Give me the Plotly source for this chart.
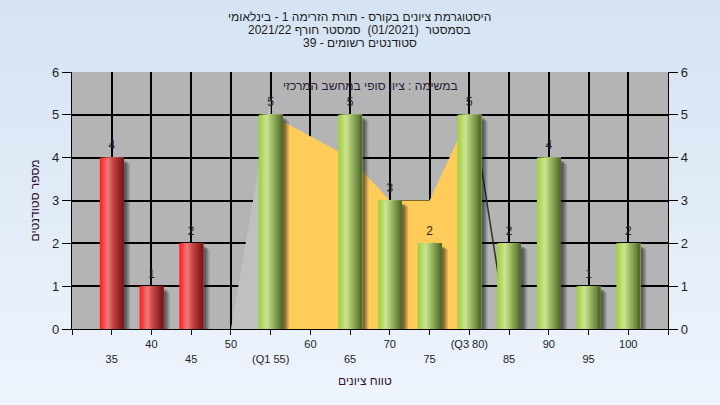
import numpy as np
import plotly.graph_objects as go

# ---------------- data ----------------
fail_x = [35, 40, 45]
fail_y = [4, 1, 2]
pass_x = [55, 65, 70, 75, 80, 85, 90, 95, 100]
pass_y = [5, 5, 3, 2, 5, 2, 4, 1, 2]
iqr_x = [55, 65, 70, 75, 80]
iqr_y = [5, 4, 3, 3, 5]
left_tail_x = [50, 55]
left_tail_y = [0, 5.4]
right_tail_x = [81.0, 84.7]
right_tail_y = [4.4, 0]
tick_vals = [30, 35, 40, 45, 50, 55, 60, 65, 70, 75, 80, 85, 90, 95, 100, 105]
tick_labels = ["", "35", "40", "45", "50", "(Q1 55)", "60", "65", "70", "75",
               "(Q3 80)", "85", "90", "95", "100", ""]
title_lines = ["היסטוגרמת ציונים בקורס - תורת הזרימה 1 - בינלאומי",
               "בסמסטר  (01/2021)  סמסטר חורף 2021/22",
               "סטודנטים רשומים - 39"]
task_label = "במשימה : ציון סופי במחשב המרכזי"
x_title = "טווח ציונים"
y_title = "מספר סטודנטים"

FONT = "Liberation Sans, Arial, sans-serif"
BAR_W = 3.0
N_STRIPES = 16

def grad(stops, n):
    pos = np.array([s[0] for s in stops])
    cols = np.array([s[1] for s in stops], dtype=float)
    out = []
    for i in range(n):
        t = (i + 0.5) / n
        c = [np.interp(t, pos, cols[:, k]) for k in range(3)]
        out.append("rgb(%d,%d,%d)" % tuple(int(round(v)) for v in c))
    return out

green_stops = [(0.0, (160, 206, 64)), (0.15, (180, 216, 98)), (0.33, (204, 230, 146)),
               (0.55, (160, 188, 104)), (0.8, (112, 142, 66)), (1.0, (76, 100, 42))]
red_stops = [(0.0, (255, 26, 26)), (0.18, (246, 78, 78)), (0.33, (238, 122, 122)),
             (0.55, (200, 70, 70)), (0.8, (156, 40, 40)), (1.0, (116, 24, 24))]

fig = go.Figure()

# tails / quartile area (main subplot, under the bars)
fig.add_trace(go.Scatter(x=left_tail_x, y=left_tail_y, mode="lines", fill="tozeroy",
                         fillcolor="#C0C0C0", line=dict(width=0, color="#C0C0C0"),
                         hoverinfo="skip"))
fig.add_trace(go.Scatter(x=iqr_x, y=iqr_y, mode="lines", fill="tozeroy",
                         fillcolor="#FFCC5A", line=dict(width=0, color="#FFCC5A"),
                         hoverinfo="skip"))
fig.add_trace(go.Scatter(x=right_tail_x, y=right_tail_y, mode="lines",
                         line=dict(width=1.5, color="#303030"), hoverinfo="skip"))

# shadows (overlay subplot, drawn above the areas)
for xs, ys in [(fail_x, fail_y), (pass_x, pass_y)]:
    for dx, dy, a in [(0.8, 0.14, 0.16), (0.6, 0.11, 0.22), (0.38, 0.08, 0.3)]:
        fig.add_trace(go.Bar(x=xs, y=[v - dy for v in ys], width=BAR_W,
                             offset=-BAR_W / 2 + dx, yaxis="y2",
                             marker=dict(color="rgba(20,20,20,%.2f)" % a, line=dict(width=0)),
                             hoverinfo="skip"))

# cylinder-shaded bars: each stripe runs from its start to the bar's right edge
for xs, ys, stops in [(fail_x, fail_y, red_stops), (pass_x, pass_y, green_stops)]:
    cols = grad(stops, N_STRIPES)
    sw = BAR_W / N_STRIPES
    for i, c in enumerate(cols):
        fig.add_trace(go.Bar(x=xs, y=ys, width=BAR_W - i * sw,
                             offset=-BAR_W / 2 + i * sw, yaxis="y2",
                             marker=dict(color=c, line=dict(width=0)),
                             hoverinfo="skip"))

# value labels
all_x = fail_x + pass_x
all_y = fail_y + pass_y
fig.add_trace(go.Scatter(x=all_x, y=all_y, yaxis="y2", mode="markers+text",
                         marker=dict(size=7, opacity=0),
                         text=[str(v) for v in all_y], textposition="top center",
                         textfont=dict(family=FONT, size=12, color="#262626"),
                         hoverinfo="skip"))

ticktext = []
for v, lab in zip(tick_vals, tick_labels):
    if lab and v % 10 == 5:
        ticktext.append("<br>" + lab)
    else:
        ticktext.append(lab)

# background gradient bands
shapes = []
top_paper, bot_paper = 1.30, -0.31
nb = 40
c_top = np.array([213, 227, 243])
c_bot = np.array([239, 245, 253])
for i in range(nb):
    y1 = top_paper - (top_paper - bot_paper) * i / nb
    y0 = top_paper - (top_paper - bot_paper) * (i + 1) / nb
    c = c_top + (c_bot - c_top) * (i + 0.5) / nb
    shapes.append(dict(type="rect", xref="paper", yref="paper", x0=-0.3, x1=1.3,
                       y0=y0 - 0.002, y1=y1 + 0.002, layer="below", line=dict(width=0),
                       fillcolor="rgb(%d,%d,%d)" % tuple(int(v) for v in c)))
shapes.append(dict(type="rect", xref="paper", yref="paper", x0=0, x1=1, y0=0, y1=1,
                   layer="below", line=dict(width=0), fillcolor="#B4B4B4"))

annotations = []
for yy, line in zip([1.214, 1.163, 1.113], title_lines):
    annotations.append(dict(text=line, xref="paper", yref="paper", x=0.4832, y=yy,
                            xanchor="center", yanchor="middle", showarrow=False,
                            font=dict(family=FONT, size=12, color="#1E1E1E")))
annotations.append(dict(text=task_label, xref="paper", yref="paper", x=0.5, y=0.9455,
                        xanchor="center", yanchor="middle", showarrow=False,
                        font=dict(family=FONT, size=12, color="#2B1B3B")))
annotations.append(dict(text=x_title, xref="paper", yref="paper", x=0.4916, y=-0.2023,
                        xanchor="center", yanchor="middle", showarrow=False,
                        font=dict(family=FONT, size=12, color="#301030")))
annotations.append(dict(text=y_title, xref="paper", yref="paper", x=-0.0621, y=0.5,
                        xanchor="center", yanchor="middle", showarrow=False, textangle=-90,
                        font=dict(family=FONT, size=12, color="#301030")))

fig.update_layout(
    width=720, height=405,
    margin=dict(l=72, r=52, t=72, b=76),
    paper_bgcolor="#E2ECF8",
    plot_bgcolor="#B4B4B4",
    barmode="overlay",
    showlegend=False,
    shapes=shapes,
    annotations=annotations,
    xaxis=dict(range=[30, 105], tickmode="array", tickvals=tick_vals, ticktext=ticktext,
               showgrid=True, gridcolor="black", gridwidth=1.5, zeroline=False,
               ticks="outside", ticklen=5, tickcolor="black", tickwidth=1.3,
               showline=True, linecolor="black", linewidth=1.3, layer="below traces",
               tickfont=dict(family=FONT, size=11, color="#222222"), fixedrange=True),
    yaxis=dict(range=[0, 6], dtick=1, tick0=0, showgrid=True, gridcolor="black",
               gridwidth=1.5, zeroline=False, ticks="outside", ticklen=9,
               tickcolor="black", tickwidth=1.3, showline=True, linecolor="black",
               linewidth=1.3, tickfont=dict(family=FONT, size=13, color="#1E1E1E"),
               fixedrange=True),
    yaxis2=dict(range=[0, 6], dtick=1, tick0=0, overlaying="y", side="right",
                showgrid=False, zeroline=False, ticks="outside", ticklen=9,
                tickcolor="black", tickwidth=1.3, showline=True, linecolor="black",
                linewidth=1.3, tickfont=dict(family=FONT, size=13, color="#1E1E1E"),
                fixedrange=True),
)

fig.write_html("out.html", config={"displayModeBar": False},
               post_script="document.body.style.margin='0';document.body.style.overflow='hidden';")
